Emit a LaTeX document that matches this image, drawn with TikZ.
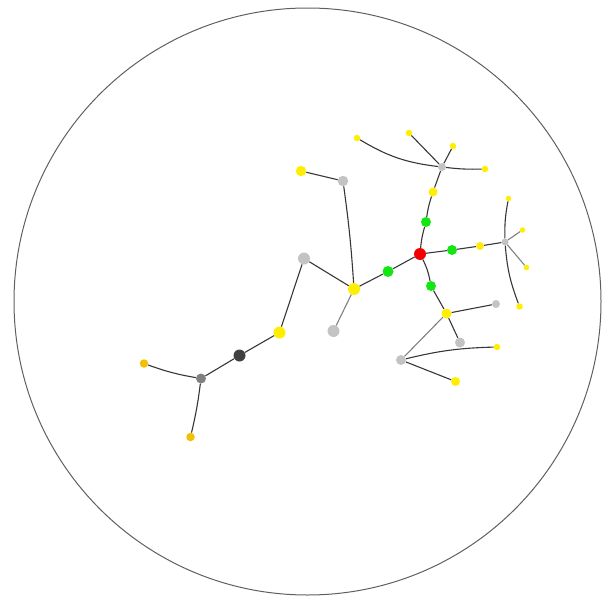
\documentclass[tikz,border=0pt]{standalone}
\definecolor{yel}{RGB}{255,238,0}
\definecolor{gold}{RGB}{242,192,0}
\definecolor{grn}{RGB}{20,230,20}
\definecolor{rd}{RGB}{240,0,0}
\definecolor{lgray}{RGB}{195,195,195}
\definecolor{mgray}{RGB}{128,128,128}
\definecolor{dgray}{RGB}{64,64,64}
\definecolor{edge}{RGB}{55,55,55}
\tikzset{
  dot/.style={circle,inner sep=0pt,draw=none},
  ys/.style={dot,fill=yel,minimum size=6.5pt},
  ym/.style={dot,fill=yel,minimum size=9pt},
  yl/.style={dot,fill=yel,minimum size=12pt},
  go/.style={dot,fill=gold,minimum size=8.5pt},
  gr/.style={dot,fill=grn,minimum size=11pt},
  rn/.style={dot,fill=rd,minimum size=12pt},
  lg/.style={dot,fill=lgray,minimum size=12pt},
  lgs/.style={dot,fill=lgray,minimum size=8pt},
  mg/.style={dot,fill=mgray,minimum size=10pt},
  dg/.style={dot,fill=dgray,minimum size=12pt},
  con/.style={draw=edge,line width=1.1pt},
}
\begin{document}
\begin{tikzpicture}[x=1pt,y=1pt]
\useasboundingbox (0,0) rectangle (603,-597);
\draw[draw=edge!80,line width=1pt] (307.5,-301.5) circle (293.5);
% nodes
\node[ys] (A) at (357,-138) {};
\node[ys] (B) at (409,-133) {};
\node[ys] (C) at (453,-146) {};
\node[lgs] (G1) at (442,-167) {};
\node[ys] (D) at (485,-169) {};
\node[ym,minimum size=10.5pt] (E) at (301,-171) {};
\node[lg,minimum size=10.5pt] (F) at (343,-181) {};
\node[ym] (H) at (433,-192) {};
\node[gr,minimum size=10pt] (I) at (426,-222) {};
\node[rn] (R) at (420,-254) {};
\node[gr,minimum size=10pt] (J) at (452,-250) {};
\node[ym,minimum size=8pt] (K) at (480,-246) {};
\node[lgs,minimum size=7pt] (G2) at (505,-242) {};
\node[ys,minimum size=5.5pt] (L) at (508.5,-198.5) {};
\node[ys,minimum size=5.5pt] (M) at (522.5,-230) {};
\node[ys,minimum size=5.5pt] (N) at (526.5,-267.5) {};
\node[ys] (O) at (519.5,-306.5) {};
\node[lg] (P) at (304,-258.5) {};
\node[gr] (Q) at (388,-271.5) {};
\node[yl] (S) at (354,-289) {};
\node[gr,minimum size=10pt] (T) at (431,-286) {};
\node[ym,minimum size=10pt] (U) at (446.5,-313.5) {};
\node[lgs] (V) at (496,-304) {};
\node[lg,minimum size=10pt] (W) at (460,-342.5) {};
\node[lg,minimum size=10pt] (X) at (401,-360) {};
\node[ys] (Y) at (497,-347) {};
\node[ym] (Z) at (455.5,-381.5) {};
\node[lg] (S2) at (333.5,-331) {};
\node[yl] (Yb) at (279.5,-332.5) {};
\node[dg] (Dk) at (239.5,-355.5) {};
\node[mg] (Mg) at (201,-378.5) {};
\node[go] (O1) at (144,-363.5) {};
\node[go] (O2) at (190.5,-437) {};
% edges
\draw[con] (A) to[bend right=12] (G1);
\draw[con] (B) -- (G1);
\draw[con] (C) -- (G1);
\draw[con] (G1) to[bend right=4] (D);
\draw[con] (G1) -- (H);
\draw[con] (H) to[bend right=5] (I);
\draw[con] (I) to[bend right=5] (R);
\draw[con] (R) -- (J);
\draw[con] (J) -- (K);
\draw[con] (K) -- (G2);
\draw[con] (L) to[bend right=6] (G2);
\draw[con] (G2) to[bend right=8] (O);
\draw[con,draw=mgray] (G2) -- (M);
\draw[con,draw=mgray] (G2) -- (N);
\draw[con] (R) -- (Q);
\draw[con] (Q) -- (S);
\draw[con] (F) to[bend left=2] (S);
\draw[con] (E) -- (F);
\draw[con] (S) -- (P);
\draw[con,draw=mgray] (S) -- (S2);
\draw[con] (P) -- (Yb);
\draw[con] (R) to[bend left=8] (T);
\draw[con] (T) -- (U);
\draw[con] (U) -- (V);
\draw[con] (U) -- (W);
\draw[con,draw=mgray] (U) -- (X);
\draw[con] (X) to[bend left=6] (Y);
\draw[con] (X) -- (Z);
\draw[con] (Yb) -- (Dk);
\draw[con] (Dk) -- (Mg);
\draw[con] (Mg) to[bend left=5] (O1);
\draw[con] (Mg) to[bend left=3] (O2);
\end{tikzpicture}
\end{document}
